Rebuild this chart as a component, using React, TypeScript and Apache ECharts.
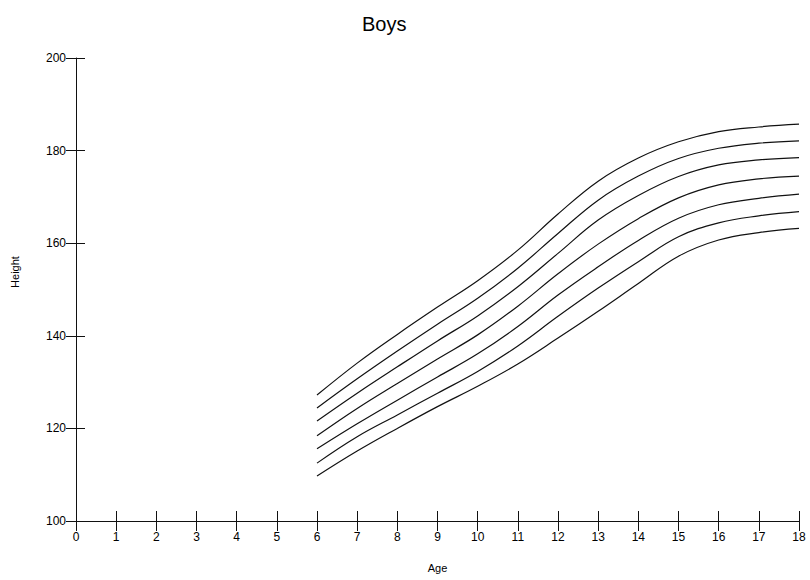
import React, { useEffect, useRef } from "react";
import * as echarts from "echarts";

const ages = [6, 7, 8, 9, 10, 11, 12, 13, 14, 15, 16, 17, 18];
const curve1 = [127.2, 134.1, 140.3, 146.2, 151.9, 158.5, 166.3, 173.4, 178.4, 181.9, 184.1, 185.1, 185.7];
const curve2 = [124.4, 130.7, 136.7, 142.5, 148.1, 154.6, 162.1, 169.3, 174.5, 178.3, 180.5, 181.6, 182.1];
const curve3 = [121.6, 127.6, 133.3, 138.9, 144.3, 150.6, 157.8, 165.0, 170.3, 174.4, 176.9, 178.0, 178.5];
const curve4 = [118.4, 124.3, 129.7, 135.0, 140.2, 146.4, 153.4, 159.8, 165.3, 169.8, 172.6, 173.9, 174.5];
const curve5 = [115.6, 121.0, 126.1, 131.1, 136.1, 142.0, 148.8, 154.9, 160.6, 165.4, 168.3, 169.7, 170.6];
const curve6 = [112.5, 118.2, 122.9, 127.6, 132.3, 137.8, 144.2, 150.3, 156.0, 161.4, 164.4, 165.9, 166.8];
const curve7 = [109.7, 115.1, 120.0, 124.7, 129.1, 133.9, 139.5, 145.3, 151.3, 157.2, 160.7, 162.3, 163.2];
const curves = [curve1, curve2, curve3, curve4, curve5, curve6, curve7];

const xMin = 0;
const xMax = 18;
const yMin = 100;
const yMax = 200;

export default function App() {
  const ref = useRef<HTMLDivElement>(null);
  useEffect(() => {
    if (!ref.current) return;
    const chart = echarts.init(ref.current, null, { renderer: "svg" });
    const font = "Liberation Sans, Arial, sans-serif";
    const axisLine = { show: true, lineStyle: { color: "#111", width: 1 } };
    const tickStyle = { color: "#111", width: 1 };
    chart.setOption({
      animation: false,
      backgroundColor: "#fff",
      title: {
        text: "Boys",
        left: 357,
        top: 9,
        textStyle: { fontFamily: font, fontSize: 20, fontWeight: "normal", color: "#000" },
      },
      grid: { left: 76, right: 11, top: 58, bottom: 59 },
      xAxis: [
        {
          type: "value",
          min: xMin,
          max: xMax,
          interval: 1,
          axisLine,
          axisTick: { show: true, inside: false, length: 10, lineStyle: tickStyle },
          axisLabel: { color: "#000", fontSize: 12, fontFamily: font, margin: 10 },
          splitLine: { show: false },
          name: "Age",
          nameLocation: "middle",
          nameGap: 41,
          nameTextStyle: { color: "#000", fontSize: 11, fontFamily: font },
        },
        {
          type: "value",
          position: "bottom",
          min: xMin,
          max: xMax,
          interval: 1,
          axisLine: { show: false },
          axisTick: { show: true, inside: true, length: 10, lineStyle: tickStyle },
          axisLabel: { show: false },
          splitLine: { show: false },
        },
      ],
      yAxis: [
        {
          type: "value",
          min: yMin,
          max: yMax,
          interval: 20,
          axisLine,
          axisTick: { show: true, inside: false, length: 10, lineStyle: tickStyle },
          axisLabel: { color: "#000", fontSize: 12, fontFamily: font, margin: 10 },
          splitLine: { show: false },
        },
        {
          type: "value",
          position: "left",
          min: yMin,
          max: yMax,
          interval: 20,
          axisLine: { show: false },
          axisTick: { show: true, inside: true, length: 9, lineStyle: tickStyle },
          axisLabel: { show: false },
          splitLine: { show: false },
        },
      ],
      graphic: [
        {
          type: "text",
          x: 15,
          y: 272,
          rotation: Math.PI / 2,
          style: {
            text: "Height",
            fill: "#000",
            font: `11px ${font}`,
            align: "center",
            verticalAlign: "middle",
          },
        },
      ],
      series: curves.map((c, i) => ({
        type: "line",
        name: `c${i + 1}`,
        xAxisIndex: 0,
        yAxisIndex: 0,
        data: ages.map((a, j) => [a, c[j]]),
        smooth: 0.4,
        showSymbol: false,
        symbol: "none",
        lineStyle: { color: "#111", width: 1.2 },
      })),
    });
    return () => chart.dispose();
  }, []);
  return (
    <div
      ref={ref}
      style={{ position: "fixed", left: 0, top: 0, width: 810, height: 580, background: "#fff" }}
    />
  );
}
